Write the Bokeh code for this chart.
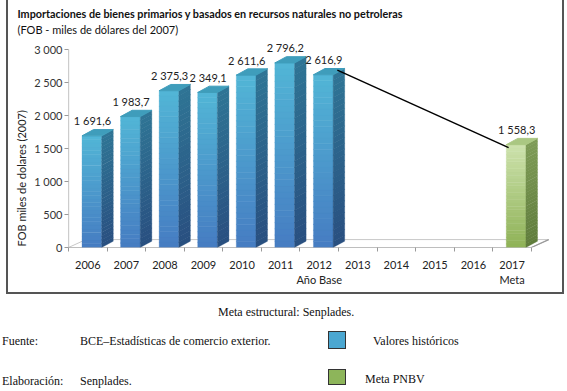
import numpy as np
from bokeh.plotting import figure
from bokeh.models import ColumnDataSource, FixedTicker, Div, Range1d, Title, Spacer
from bokeh.layouts import column, row
from bokeh.embed import file_html
from bokeh.resources import INLINE
from bokeh.core.properties import value

# ---------------- data ----------------
years = [2006, 2007, 2008, 2009, 2010, 2011, 2012, 2013, 2014, 2015, 2016, 2017]
hist_years = [2006, 2007, 2008, 2009, 2010, 2011, 2012]
hist_values = [1691.6, 1983.7, 2375.3, 2349.1, 2611.6, 2796.2, 2616.9]
goal_years = [2017]
goal_values = [1558.3]
hist_labels = ["1 691,6", "1 983,7", "2 375,3", "2 349,1", "2 611,6", "2 796,2", "2 616,9"]
goal_labels = ["1 558,3"]
y_ticks = [0, 500, 1000, 1500, 2000, 2500, 3000]
y_tick_labels = ["0", "500", "1 000", "1 500", "2 000", "2 500", "3 000"]
x_tick_labels = {2012: "2012\nAño Base", 2017: "2017\nMeta"}

title_text = "Importaciones de bienes primarios y basados en recursos naturales no petroleras"
subtitle_text = "(FOB - miles de dólares del 2007)"
y_axis_title = "FOB miles de dolares (2007)"

# ---------------- style ----------------
FONT = "Lato"
FRONT_L, FRONT_R = -0.15, 0.36   # bar front face, in category units
DX, DY = 0.30, 95                # bar depth
FLOOR_DX, FLOOR_DY = 0.45, 120
N = 30


def hex2rgb(h):
    h = h.lstrip("#")
    return np.array([int(h[i:i + 2], 16) for i in (0, 2, 4)], float)


def mix(c1, c2, t):
    a, b = hex2rgb(c1), hex2rgb(c2)
    c = a + (b - a) * t
    return "#%02x%02x%02x" % tuple(int(round(v)) for v in c)


blue = dict(front_top="#52b6d6", front_bot="#467cc2", side_top="#2f7595",
            side_bot="#294f80", top="#3f9dbb")
green = dict(front_top="#cde2ad", front_bot="#8fb257", side_top="#7f9c57",
             side_bot="#5f7c3c", top="#aac782")

p = figure(width=558, height=294, x_range=Range1d(2005.5, 2018.1),
           y_range=Range1d(0, 3212), output_backend="svg", toolbar_location=None,
           min_border_left=60, min_border_right=12,
           min_border_top=35, min_border_bottom=47)
p.outline_line_color = None
p.xgrid.grid_line_color = None
p.ygrid.grid_line_color = None
p.background_fill_color = "white"
p.border_fill_color = "white"

# titles: p.title is the outer line, the added Title sits nearer the frame
p.title.text = title_text
p.title.text_font = FONT
p.title.text_font_size = "10.8px"
p.title.text_font_style = "bold"
p.title.text_color = "#111111"
p.title.align = "left"
p.title.offset = -51
p.title.standoff = 1
sub_title = Title(text=subtitle_text, text_font=FONT, text_font_size="11px",
                  text_font_style="normal", text_color="#111111", align="left",
                  offset=-51, standoff=0)
p.add_layout(sub_title, "above")

# y axis title, bottom-aligned like the reference
y_title = Title(text=y_axis_title, text_font=FONT, text_font_size="11px",
                text_font_style="normal", text_color="#222222", align="left",
                offset=1, standoff=7)
p.add_layout(y_title, "left")

# floor
x0, x1 = years[0] - 0.5, years[-1] + 0.5
p.patch([x0, x1, x1 + FLOOR_DX, x0 + FLOOR_DX], [0, 0, FLOOR_DY, FLOOR_DY],
        fill_color="white", line_color="#c8c8c8", line_width=1)
p.line([x0, x1, x1 + FLOOR_DX], [0, 0, FLOOR_DY], line_color="#9a9a9a", line_width=1.2)
# y axis line
p.line([x0, x0], [0, y_ticks[-1]], line_color="#9a9a9a", line_width=1.2)


def draw_bars(xs, vals, col):
    fq = dict(left=[], right=[], bottom=[], top=[], color=[])
    sx, sy, sc = [], [], []
    tx, ty = [], []
    for x, v in zip(xs, vals):
        l, r = x + FRONT_L, x + FRONT_R
        edges = np.linspace(0, v, N + 1)
        for k in range(N):
            t = (k + 0.5) / N
            fq["left"].append(l); fq["right"].append(r)
            fq["bottom"].append(edges[k]); fq["top"].append(edges[k + 1] + v * 0.002)
            fq["color"].append(mix(col["front_bot"], col["front_top"], t))
            sx.append([r, r + DX, r + DX, r])
            sy.append([edges[k], edges[k] + DY, edges[k + 1] + DY + v * 0.002, edges[k + 1] + v * 0.002])
            sc.append(mix(col["side_bot"], col["side_top"], t))
        tx.append([l, r, r + DX, l + DX])
        ty.append([v, v, v + DY, v + DY])
    p.quad(source=ColumnDataSource(fq), left="left", right="right", bottom="bottom",
           top="top", fill_color="color", line_color="color", line_width=0.3)
    p.patches(sx, sy, fill_color=sc, line_color=sc, line_width=0.3)
    p.patches(tx, ty, fill_color=col["top"], line_color=col["top"])


draw_bars(hist_years, hist_values, blue)
draw_bars(goal_years, goal_values, green)

# connecting line 2012 -> 2017
p.line([hist_years[-1] + 0.47, goal_years[0] - 0.09],
       [hist_values[-1] + 70, goal_values[0] - 45], line_color="black", line_width=1.5)

# value labels
lab = ColumnDataSource(dict(x=[y + 0.12 for y in hist_years + goal_years],
                            y=hist_values + goal_values,
                            t=hist_labels + goal_labels))
p.text(x="x", y="y", text="t", source=lab, text_align="center",
       text_baseline="middle", y_offset=-15, text_font=value(FONT),
       text_font_size="11px", text_color="#222222")

# axes
p.yaxis.ticker = FixedTicker(ticks=y_ticks)
p.yaxis.major_label_overrides = {t: s for t, s in zip(y_ticks, y_tick_labels)}
p.yaxis.axis_line_color = None
p.yaxis.major_tick_line_color = "#9a9a9a"
p.yaxis.major_tick_out = 4
p.yaxis.major_tick_in = 0
p.yaxis.minor_tick_line_color = None
p.yaxis.major_label_standoff = 2
p.yaxis.major_label_text_font = FONT
p.yaxis.major_label_text_font_size = "11px"
p.yaxis.major_label_text_color = "#333333"

p.xaxis.ticker = FixedTicker(ticks=years, minor_ticks=[y - 0.5 for y in years] + [years[-1] + 0.5])
p.xaxis.major_label_overrides = {y: x_tick_labels.get(y, str(y)) for y in years}
p.xaxis.axis_line_color = None
p.xaxis.major_tick_line_color = None
p.xaxis.major_tick_out = 0
p.xaxis.major_tick_in = 0
p.xaxis.minor_tick_line_color = "#9a9a9a"
p.xaxis.minor_tick_out = 4
p.xaxis.minor_tick_in = 0
p.xaxis.major_label_standoff = 6
p.xaxis.major_label_text_font = FONT
p.xaxis.major_label_text_font_size = "11px"
p.xaxis.major_label_text_color = "#222222"

p.styles = {"border-left": "2px solid #555", "border-right": "2px solid #555",
            "border-bottom": "2px solid #555", "box-sizing": "border-box"}

html = """
<div style="position:relative;width:551px;height:97px;font-family:'Liberation Serif';font-size:12px;color:#111;line-height:14px;">
<span style="position:absolute;left:207px;top:6px;white-space:nowrap">Meta estructural: Senplades.</span>
<span style="position:absolute;left:-9px;top:35px;white-space:nowrap">Fuente:</span>
<span style="position:absolute;left:69px;top:35px;white-space:nowrap">BCE–Estadísticas de comercio exterior.</span>
<span style="position:absolute;left:317px;top:32px;width:18px;height:18px;background:#4ba7d1;border:1.5px solid #333"></span>
<span style="position:absolute;left:362px;top:35px;white-space:nowrap">Valores históricos</span>
<span style="position:absolute;left:-9px;top:75px;white-space:nowrap">Elaboración:</span>
<span style="position:absolute;left:69px;top:75px;white-space:nowrap">Senplades.</span>
<span style="position:absolute;left:317px;top:70px;width:18px;height:16px;background:#8db55a;border:1.5px solid #333"></span>
<span style="position:absolute;left:354px;top:73px;white-space:nowrap">Meta PNBV</span>
</div>
"""
d = Div(text=html, width=551, height=97, styles={"overflow": "visible"})

layout = row(Spacer(width=6, height=391), column(p, d, spacing=0), spacing=0)
open("out.html", "w").write(file_html(layout, INLINE))
